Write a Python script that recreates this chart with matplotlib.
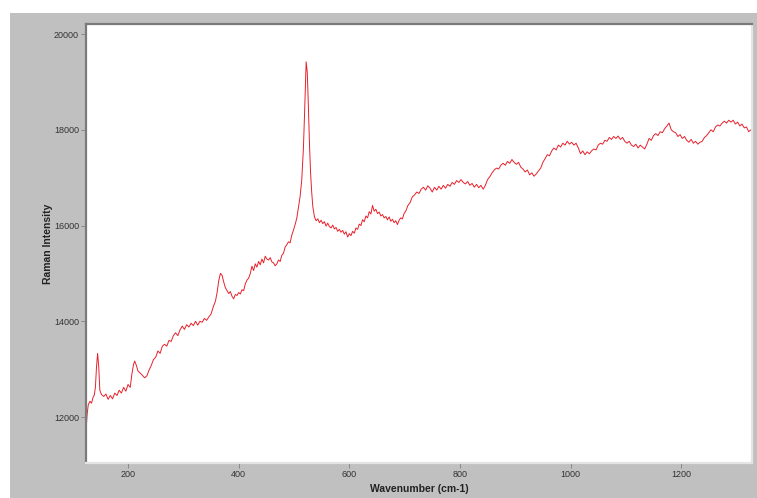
import matplotlib
matplotlib.use("Agg")
import matplotlib.pyplot as plt
from matplotlib.patches import Rectangle

# Raman spectrum
wavenumber = [
    124, 126, 128, 131, 134, 137, 139, 141, 143, 145, 147, 149, 152, 156, 160,
    164, 168, 172, 176, 180, 184, 188, 192, 196, 200, 204, 207, 210, 212, 215,
    218, 222, 226, 230, 234, 238, 242, 246, 250, 254, 258, 262, 266, 270, 274,
    278, 282, 286, 290, 294, 298, 302, 306, 310, 314, 318, 322, 326, 330, 334,
    338, 342, 346, 350, 354, 358, 361, 364, 367, 370, 373, 376, 379, 382, 385,
    388, 391, 394, 397, 400, 403, 406, 409, 412, 415, 418, 421, 424, 427, 430,
    433, 436, 439, 442, 445, 448, 451, 454, 457, 460, 463, 466, 469, 472, 475,
    478, 481, 484, 487, 490, 493, 496, 499, 502, 505, 508, 511, 514, 517, 519,
    521, 522, 524, 526, 528, 530, 532, 534, 537, 540, 543, 546, 549, 552, 555,
    558, 561, 564, 567, 570, 573, 576, 579, 582, 585, 588, 591, 594, 597, 600,
    603, 606, 609, 612, 615, 618, 621, 624, 627, 630, 633, 636, 639, 642, 645,
    648, 651, 654, 657, 660, 663, 666, 669, 672, 675, 678, 681, 684, 687, 690,
    693, 696, 699, 702, 706, 710, 714, 718, 722, 726, 730, 734, 738, 742, 746,
    750, 754, 758, 762, 766, 770, 774, 778, 782, 786, 790, 794, 798, 802, 806,
    810, 814, 818, 822, 826, 830, 834, 838, 842, 846, 850, 854, 858, 862, 866,
    870, 874, 878, 882, 886, 890, 894, 898, 902, 906, 910, 914, 918, 922, 926,
    930, 934, 938, 942, 946, 950, 954, 958, 962, 966, 970, 974, 978, 982, 986,
    990, 994, 998, 1002, 1006, 1010, 1014, 1018, 1022, 1026, 1030, 1034, 1038,
    1042, 1046, 1050, 1054, 1058, 1062, 1066, 1070, 1074, 1078, 1082, 1086,
    1090, 1094, 1098, 1102, 1106, 1110, 1114, 1118, 1122, 1126, 1130, 1134,
    1138, 1142, 1146, 1150, 1154, 1158, 1162, 1166, 1170, 1174, 1178, 1182,
    1186, 1190, 1194, 1198, 1202, 1206, 1210, 1214, 1218, 1222, 1226, 1230,
    1234, 1238, 1242, 1246, 1250, 1254, 1258, 1262, 1266, 1270, 1274, 1278,
    1282, 1286, 1290, 1294, 1298, 1302, 1306, 1310, 1314, 1318, 1322, 1326,
    1330,
]
intensity = [
    11700, 12050, 12250, 12330, 12290, 12420, 12460, 12620, 13050, 13330, 13050,
    12560, 12470, 12430, 12480, 12370, 12450, 12380, 12500, 12450, 12560, 12500,
    12620, 12540, 12680, 12620, 12900, 13100, 13170, 13080, 12960, 12920, 12870,
    12820, 12860, 12980, 13080, 13200, 13250, 13380, 13330, 13480, 13520, 13480,
    13600, 13580, 13700, 13760, 13700, 13820, 13900, 13830, 13930, 13880, 13960,
    13910, 14000, 13920, 14000, 13980, 14060, 14020, 14090, 14150, 14300, 14420,
    14600, 14850, 15000, 14960, 14820, 14700, 14640, 14580, 14620, 14520, 14470,
    14560, 14540, 14600, 14570, 14660, 14640, 14780, 14860, 14900, 15000, 15150,
    15060, 15200, 15130, 15250, 15180, 15300, 15220, 15360, 15300, 15280, 15330,
    15240, 15220, 15160, 15200, 15280, 15250, 15380, 15420, 15550, 15600, 15660,
    15640, 15800, 15900, 16020, 16150, 16380, 16600, 16950, 17600, 18300, 19100,
    19420, 19200, 18500, 17700, 17100, 16700, 16400, 16180, 16100, 16140, 16060,
    16110, 16040, 16080, 15990, 16050, 15980, 15950, 16010, 15930, 15960, 15880,
    15920, 15860, 15900, 15820, 15870, 15760, 15830, 15790, 15880, 15840, 15950,
    15920, 16030, 16000, 16120, 16080, 16200, 16160, 16290, 16240, 16420, 16300,
    16340, 16250, 16280, 16200, 16230, 16160, 16190, 16120, 16180, 16090, 16130,
    16060, 16100, 16020, 16110, 16160, 16140, 16250, 16300, 16420, 16480, 16600,
    16640, 16700, 16670, 16760, 16800, 16740, 16830, 16780, 16700, 16800, 16740,
    16820, 16760, 16840, 16780, 16860, 16820, 16900, 16860, 16940, 16900, 16960,
    16900, 16870, 16920, 16840, 16880, 16800, 16860, 16790, 16840, 16760, 16840,
    16960, 17020, 17100, 17160, 17200, 17180, 17260, 17300, 17260, 17340, 17300,
    17380, 17320, 17280, 17320, 17220, 17180, 17120, 17160, 17060, 17100, 17030,
    17080, 17140, 17200, 17320, 17400, 17480, 17460, 17560, 17620, 17580, 17680,
    17640, 17720, 17680, 17760, 17700, 17740, 17680, 17720, 17620, 17500, 17560,
    17480, 17540, 17500, 17560, 17600, 17580, 17680, 17720, 17700, 17780, 17760,
    17840, 17800, 17860, 17820, 17870, 17800, 17840, 17760, 17720, 17760, 17680,
    17650, 17700, 17620, 17680, 17640, 17600, 17700, 17820, 17780, 17880, 17920,
    17880, 17960, 17940, 18020, 18080, 18140, 18000, 17960, 17940, 17860, 17900,
    17820, 17860, 17780, 17740, 17800, 17720, 17760, 17700, 17740, 17760, 17840,
    17880, 17940, 18000, 17960, 18060, 18100, 18080, 18140, 18180, 18140, 18200,
    18160, 18200, 18120, 18160, 18080, 18120, 18040, 18060, 17960, 18000, 17920,
]

x_ticks = [200, 400, 600, 800, 1000, 1200]
y_ticks = [12000, 14000, 16000, 18000, 20000]

plt.rcParams["font.family"] = ["Liberation Sans", "DejaVu Sans"]

W, H = 757, 498
fig = plt.figure(figsize=(W / 100, H / 100), dpi=100)
fig.patch.set_facecolor("white")

# gray window background, kept behind the axes
bg = Rectangle((10 / W, 0), (W - 10) / W, (H - 13) / H,
               transform=fig.transFigure, facecolor="#c0c0c0",
               edgecolor="none", zorder=-10)
fig.add_artist(bg)

ax = fig.add_axes([86 / W, (H - 463) / H, (752 - 86) / W, (463 - 24) / H])
ax.set_zorder(5)
ax.set_facecolor("white")
ax.plot(wavenumber, intensity, color="#e8202a", linewidth=0.7)

ax.set_xlim(124, 1328)
ax.set_ylim(11040, 20210)
ax.set_xticks(x_ticks)
ax.set_xticklabels([str(t) for t in x_ticks])
ax.set_yticks(y_ticks)
ax.set_yticklabels([str(t) for t in y_ticks])

for side in ["left", "top"]:
    ax.spines[side].set_color("#7a7a7a")
    ax.spines[side].set_linewidth(1.6)
for side in ["right", "bottom"]:
    ax.spines[side].set_color("#e4e4e4")
    ax.spines[side].set_linewidth(1.6)

ax.tick_params(axis="both", direction="out", length=3.5, width=0.6,
               color="#808080", labelsize=6.5, labelcolor="#333333", pad=1.5)

ax.set_xlabel("Wavenumber (cm-1)", fontsize=7.5, fontweight="bold",
              color="#222222", labelpad=3.5)
ax.set_ylabel("Raman Intensity", fontsize=7.5, fontweight="bold",
              color="#222222", labelpad=1)

fig.savefig("out.png", dpi=100)
